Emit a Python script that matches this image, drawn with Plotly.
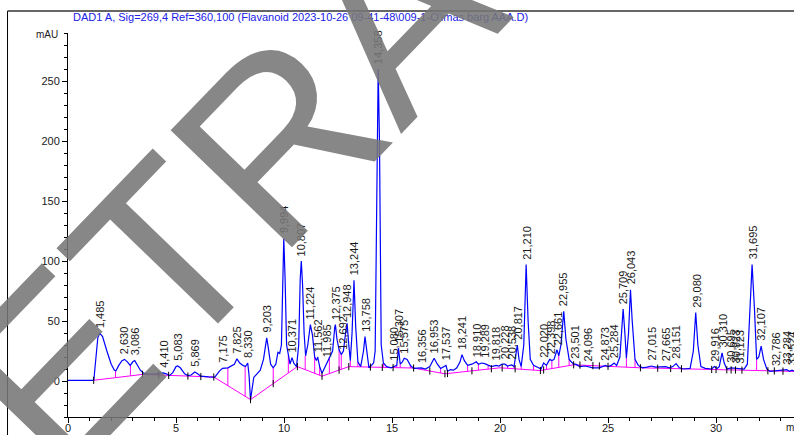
import numpy as np
import plotly.graph_objects as go

# ---------------- data ----------------
signal_t = [0.0, 1.15, 1.2, 1.3, 1.38, 1.47, 1.6, 1.8, 2.0, 2.15, 2.22, 2.35, 2.5, 2.62, 2.75, 2.88, 3.0, 3.09,
            3.2, 3.35, 3.5, 3.7, 4.0, 4.2, 4.4, 4.55, 4.7, 4.85, 5.0, 5.08, 5.2, 5.4, 5.55, 5.7, 5.87, 6.0, 6.15,
            6.5, 6.8, 7.0, 7.15, 7.4, 7.55, 7.7, 7.82, 7.95, 8.1, 8.22, 8.32, 8.38, 8.45, 8.52, 8.6, 8.75, 8.9,
            9.05, 9.15, 9.2, 9.27, 9.38, 9.5, 9.62, 9.72, 9.8, 9.88, 9.94, 9.99, 10.05, 10.12, 10.2, 10.28, 10.37,
            10.45, 10.58, 10.68, 10.75, 10.8, 10.86, 10.93, 11.0, 11.1, 11.22, 11.32, 11.42, 11.5, 11.56, 11.65,
            11.76, 11.85, 11.98, 12.1, 12.25, 12.35, 12.38, 12.45, 12.55, 12.65, 12.75, 12.85, 12.92, 13.0, 13.07,
            13.15, 13.24, 13.32, 13.42, 13.55, 13.68, 13.75, 13.83, 13.93, 14.05, 14.15, 14.22, 14.3, 14.36, 14.42,
            14.5, 14.6, 14.75, 14.95, 15.1, 15.22, 15.3, 15.38, 15.48, 15.57, 15.7, 15.85, 16.0, 16.2, 16.36, 16.55,
            16.75, 16.95, 17.1, 17.25, 17.4, 17.5, 17.57, 17.7, 17.85, 18.0, 18.15, 18.24, 18.35, 18.5, 18.7, 18.9,
            19.0, 19.15, 19.29, 19.45, 19.6, 19.82, 19.95, 20.1, 20.23, 20.35, 20.54, 20.65, 20.75, 20.8, 20.88,
            20.98, 21.1, 21.21, 21.3, 21.4, 21.55, 21.75, 21.9, 22.02, 22.15, 22.3, 22.4, 22.5, 22.64, 22.72, 22.82,
            22.95, 23.05, 23.2, 23.4, 23.5, 23.7, 23.95, 24.1, 24.3, 24.6, 24.87, 25.0, 25.15, 25.28, 25.4, 25.55,
            25.7, 25.78, 25.85, 25.95, 26.04, 26.12, 26.25, 26.4, 26.6, 26.8, 27.0, 27.2, 27.4, 27.66, 27.85, 28.0,
            28.15, 28.3, 28.5, 28.8, 28.95, 29.06, 29.16, 29.3, 29.5, 29.8, 29.92, 30.05, 30.15, 30.28, 30.38, 30.5,
            30.7, 30.9, 31.12, 31.3, 31.45, 31.55, 31.67, 31.78, 31.88, 31.98, 32.09, 32.2, 32.35, 32.5, 32.79,
            33.0, 33.28, 33.4, 33.52, 33.63]
signal_mau = [0.5, 0.5, 1.5, 20, 36, 40, 37, 25, 14, 9, 8.5, 13, 17, 18, 16, 13, 16, 17,
              14, 9, 6.5, 5.8, 5.8, 6.3, 6.8, 6, 4.5, 7, 12, 12.5, 11, 6, 4.5, 5, 7.5, 6, 4,
              3.5, 3.3, 8, 10.5, 11, 12.5, 14, 18.5, 15, 13, 12, 15, 5, -15.5, -5, 3, 6, 9,
              18, 33, 36, 28, 14, 11, 14, 24, 23, 30, 90, 119, 85, 30, 22, 14, 19.5,
              15, 12, 30, 85, 100, 80, 40, 21, 30, 47, 38, 20, 17, 20, 12,
              6.5, 10, 16, 20, 25, 45, 47, 35, 26, 22, 25, 40, 48, 30, 17,
              40, 84, 45, 16, 12, 25, 37, 25, 11, 13, 15, 25, 200, 260, 200,
              30, 15, 12, 11, 12.5, 13, 27.5, 14, 16, 19, 18, 13, 10.5, 10.5, 11, 10,
              12, 19, 14, 10.5, 12, 13, 8, 9.5, 9, 11, 16, 22, 17, 13, 14, 16,
              14, 15, 14.5, 13, 12, 13, 12.5, 14, 14, 12.5, 13.5, 12, 22, 30, 18,
              12, 30, 97, 50, 18, 13, 11, 10, 15, 13, 18, 17, 18, 26, 21, 30,
              58, 35, 18, 14, 14, 12, 12.5, 12, 11, 11, 13, 12, 13, 15, 13, 20,
              60, 40, 19, 40, 76, 50, 18, 13, 11, 11.5, 12.5, 11.5, 11.5, 12, 11, 12,
              14.5, 11, 10, 10.5, 25, 57, 30, 12, 10.5, 10, 12, 10.5, 12, 23.5, 15, 10,
              11, 10.5, 10.5, 10, 14, 50, 97, 60, 18, 20, 29, 18, 10, 8, 8.5,
              8.5, 9.5, 8, 9, 8]

baseline_t = [1.19, 3.45, 6.75, 8.45, 10.62, 11.76, 13.0, 16.0, 17.45, 20.0, 21.87, 23.41, 26.5, 33.63]
baseline_mau = [0.6, 5.5, 3.3, -15.5, 12.0, 4.0, 12.0, 10.8, 6.0, 11.0, 8.7, 13.5, 11.0, 8.0]

drop_t = [2.2, 2.89, 7.4, 8.2, 9.5, 10.2, 10.98, 11.42, 11.65, 12.1, 12.55, 12.65, 13.07, 13.42, 13.93,
          14.6, 15.22, 15.38, 15.85, 17.25, 18.5, 19.0, 19.45, 20.35, 20.65, 20.98, 21.55, 22.15, 22.4,
          22.72, 23.2, 25.15, 25.85, 26.25, 31.88]
drop_top = [8.5, 13, 11, 12, 11, 22, 21, 20, 12, 20, 26, 22, 17, 16, 11,
            15, 13, 14, 13, 10.5, 13, 14, 13, 12.5, 12, 12, 13, 13, 17,
            21, 18, 13, 19, 18, 18]

tick_t = [1.19, 3.45, 4.2, 4.66, 5.55, 6.15, 6.75, 8.45, 9.5, 10.62, 11.76, 12.55, 13.0, 14.0, 14.55,
          15.05, 16.0, 16.75, 17.45, 17.57, 18.7, 19.6, 20.1, 20.7, 21.87, 22.02, 23.41, 23.7, 24.3, 24.6,
          25.0, 26.5, 27.3, 27.9, 28.4, 29.8, 30.0, 30.5, 30.7, 30.9, 31.2, 32.4, 32.7, 33.1]

peak_labels = ["1,485", "2,630", "3,086", "4,410", "5,083", "5,869", "7,175", "7,825", "8,330", "9,203",
               "9,994", "10,371", "10,807", "11,224", "11,562", "11,985", "12,375", "12,692", "12,948",
               "13,244", "13,758", "14,358", "15,080", "15,307", "15,575", "16,356", "16,953", "17,537",
               "18,241", "18,910", "19,289", "19,818", "20,228", "20,538", "20,817", "21,210", "22,020",
               "22,398", "22,661", "22,955", "23,501", "24,096", "24,873", "25,284", "25,709", "26,043",
               "27,015", "27,665", "28,151", "29,080", "29,916", "30,310", "30,695", "30,923", "31,123",
               "31,695", "32,107", "32,786", "33,284", "33,524"]
peak_t = [1.485, 2.630, 3.086, 4.410, 5.083, 5.869, 7.175, 7.825, 8.330, 9.203,
          9.994, 10.371, 10.807, 11.224, 11.562, 11.985, 12.375, 12.692, 12.948,
          13.244, 13.758, 14.358, 15.080, 15.307, 15.575, 16.356, 16.953, 17.537,
          18.241, 18.910, 19.289, 19.818, 20.228, 20.538, 20.817, 21.210, 22.020,
          22.398, 22.661, 22.955, 23.501, 24.096, 24.873, 25.284, 25.709, 26.043,
          27.015, 27.665, 28.151, 29.080, 29.916, 30.310, 30.695, 30.923, 31.123,
          31.695, 32.107, 32.786, 33.284, 33.524]
peak_h = [40, 18, 17, 7, 12.5, 7.5, 11, 18.5, 15, 36,
          119, 19.5, 100, 47, 20, 16, 47, 22, 48,
          84, 37, 260, 12.5, 27.5, 19, 11, 19, 13,
          22, 16, 15, 13, 14, 13.5, 30, 97, 15,
          18, 26, 58, 14, 12.5, 13, 15, 60, 76,
          12.5, 12, 14.5, 57, 12, 23.5, 11, 10.5, 10.5,
          97, 29, 8.5, 9.5, 9]

title_text = "DAD1 A, Sig=269,4 Ref=360,100 (Flavanoid 2023-10-26 09-41-48\\009-1-O'imas barg AAA.D)"
watermark_text = "RETRACTED"

# ---------------- figure ----------------
FONT = "Liberation Sans, Arial, sans-serif"
fig = go.Figure()

# drop lines (magenta)
dx, dy = [], []
base_at_drop = np.interp(drop_t, baseline_t, baseline_mau)
for t, b, top in zip(drop_t, base_at_drop, drop_top):
    dx += [t, t, None]
    dy += [b, top, None]
fig.add_trace(go.Scatter(x=dx, y=dy, mode="lines", line=dict(color="#ff00ff", width=1),
                         hoverinfo="skip", showlegend=False))
# baseline (magenta)
fig.add_trace(go.Scatter(x=baseline_t, y=baseline_mau, mode="lines",
                         line=dict(color="#ff00ff", width=1), hoverinfo="skip", showlegend=False))
# signal
fig.add_trace(go.Scatter(x=signal_t, y=signal_mau, mode="lines",
                         line=dict(color="#0000ff", width=1.2), showlegend=False))
# integration tick marks
tx, ty = [], []
base_at_tick = np.interp(tick_t, baseline_t, baseline_mau)
for t, b in zip(tick_t, base_at_tick):
    tx += [t, t, None]
    ty += [b - 3, b + 3, None]
fig.add_trace(go.Scatter(x=tx, y=ty, mode="lines", line=dict(color="#000000", width=1),
                         hoverinfo="skip", showlegend=False))

annotations = []
for lab, t, h in zip(peak_labels, peak_t, peak_h):
    annotations.append(dict(x=t, y=h, xref="x", yref="y", text=lab, showarrow=False,
                            textangle=-90, xanchor="center", yanchor="bottom", yshift=3,
                            font=dict(family=FONT, size=11, color="#1a1a1a")))

annotations.append(dict(x=0.0041, y=1.0417, xref="paper", yref="paper", text=title_text,
                        showarrow=False, xanchor="left", yanchor="middle",
                        font=dict(family=FONT, size=11, color="#2020e8")))
annotations.append(dict(x=-0.0289, y=0.9948, xref="paper", yref="paper", text="mAU",
                        showarrow=False, xanchor="center", yanchor="middle",
                        font=dict(family=FONT, size=10, color="#1a1a1a")))
annotations.append(dict(x=0.986, y=-0.0286, xref="paper", yref="paper", text="min",
                        showarrow=False, xanchor="left", yanchor="middle",
                        font=dict(family=FONT, size=10, color="#1a1a1a")))
annotations.append(dict(x=(396 - 68) / 726, y=(417 - 17) / 384, xref="paper", yref="paper",
                        text=watermark_text,
                        showarrow=False, xanchor="center", yanchor="middle", textangle=-46,
                        font=dict(family=FONT, size=245, color="rgba(118,118,118,0.88)")))

shapes = [
    dict(type="line", xref="paper", yref="paper", x0=-0.0833, x1=-0.0833, y0=1.0573, y1=-0.08,
         line=dict(color="#000000", width=1)),
    dict(type="line", xref="paper", yref="paper", x0=-0.0833, x1=1.02, y0=1.0573, y1=1.0573,
         line=dict(color="#333333", width=1.5)),
]

fig.update_layout(
    width=794, height=435, autosize=False,
    margin=dict(l=68, r=0, t=33, b=18, pad=0),
    paper_bgcolor="white", plot_bgcolor="white",
    showlegend=False,
    annotations=annotations,
    shapes=shapes,
    xaxis=dict(range=[0, 33.61], showgrid=False, zeroline=False, showline=True,
               linecolor="#000000", linewidth=1, ticks="outside", ticklen=5, tickcolor="#000000",
               tickmode="linear", tick0=0, dtick=5, tickfont=dict(family=FONT, size=11, color="#1a1a1a"),
               ticklabelstandoff=-4,
               minor=dict(dtick=1, ticklen=3, ticks="outside", tickcolor="#000000", showgrid=False),
               fixedrange=True, automargin=False),
    yaxis=dict(range=[-30, 290], showgrid=False, zeroline=False, showline=True,
               linecolor="#000000", linewidth=1, ticks="outside", ticklen=5, tickcolor="#000000",
               tickmode="linear", tick0=0, dtick=50, tickfont=dict(family=FONT, size=11, color="#1a1a1a"),
               minor=dict(dtick=10, ticklen=3, ticks="outside", tickcolor="#000000", showgrid=False),
               fixedrange=True, automargin=False),
)

fig.write_html("out.html", config={"displayModeBar": False},
               post_script="document.body.style.margin='0px';document.body.style.overflow='hidden';")
